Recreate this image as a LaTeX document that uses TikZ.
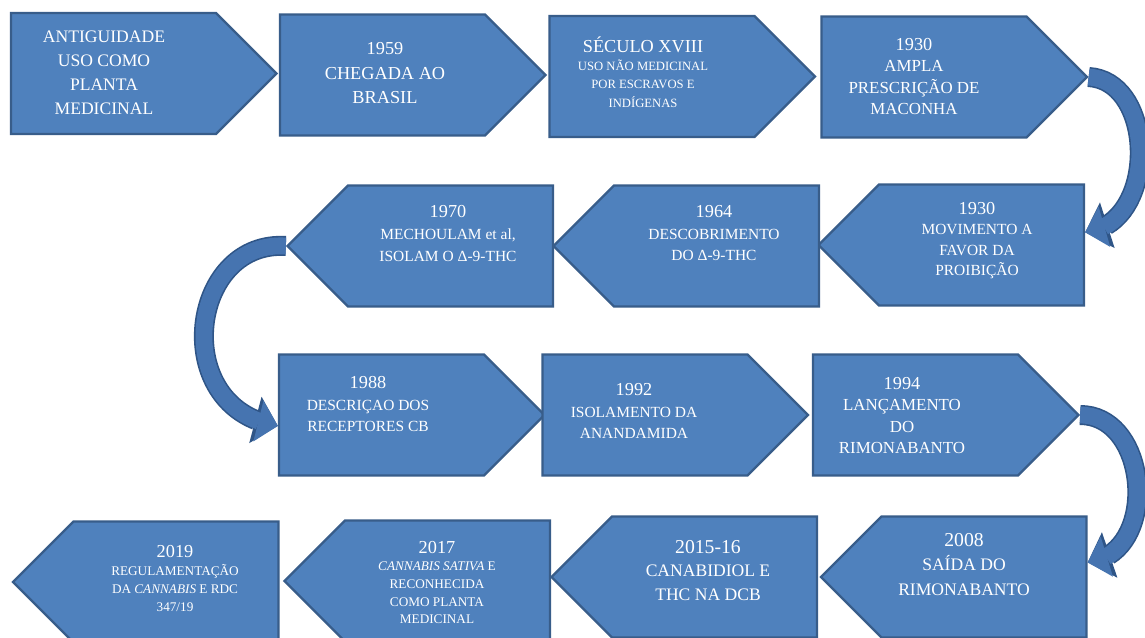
\documentclass[tikz,border=0pt]{standalone}
\usepackage{fontspec}
\setmainfont{Liberation Serif}
\usetikzlibrary{shapes.symbols,arrows.meta,bending}

\definecolor{boxblue}{HTML}{4F81BD}
\definecolor{lineblue}{HTML}{385D8A}
\definecolor{arrowblue}{HTML}{4674B0}
\definecolor{arrowline}{HTML}{2F5587}
\newcommand{\yr}[1]{{\fontsize{13}{13}\selectfont #1}}

\begin{document}
\begin{tikzpicture}[x=0.025cm, y=-0.025cm,
    sig/.style={signal, signal from=nowhere, signal pointer angle=90,
                draw=lineblue, line width=1.6pt, fill=boxblue,
                inner xsep=2.5625cm, inner ysep=1.5125cm, minimum size=0pt},
    sig_east/.style={sig, signal to=east},
    sig_west/.style={sig, signal to=west},
    txt/.style={text=white, align=center, inner sep=0pt},
    big_arrow/.style={draw=arrowblue, line width=0.42cm,
                -{Triangle[length=0.5cm, width=1.05cm, line width=0pt]},
                preaction={draw=arrowline, line width=0.5cm,
                -{Triangle[length=0.58cm, width=1.2cm, line width=0pt]}}}
   ]
   \useasboundingbox (0,0) rectangle (1145,638);
   \fill[white] (0,0) rectangle (1145,638);
   % Row 1
   \node[sig_east] (b1) at (113.5,73.5) {};
   \node[sig_east] (b2) at (382.5,75) {};
   \node[sig_east] (b3) at (652,76.5) {};
   \node[sig_east] (b4) at (924,77) {};
   % Row 2
   \node[sig_west] (b5) at (981.5,245) {};
   \node[sig_west] (b6) at (716.5,246) {};
   \node[sig_west] (b7) at (450.5,246) {};
   % Row 3
   \node[sig_east] (b8) at (381.5,415) {};
   \node[sig_east] (b9) at (645,415) {};
   \node[sig_east] (b10) at (915.5,415) {};
   % Row 4
   \node[sig_west] (b11) at (984,577) {};
   \node[sig_west] (b12) at (714.5,577) {};
   \node[sig_west] (b13) at (447.5,581) {};
   \node[sig_west] (b14) at (176,582) {};

   % Texts
   \node[txt, font=\fontsize{12.5}{17}\selectfont] (t1) at (104,73)
        {ANTIGUIDADE\\USO COMO\\PLANTA\\MEDICINAL};
   \node[txt, font=\fontsize{13}{17.4}\selectfont] (t2) at (385,73.5)
        {\yr{1959}\\CHEGADA AO\\BRASIL};
   \node[txt, font=\fontsize{9}{13}\selectfont] (t3) at (643,72)
        {{\fontsize{13}{13}\selectfont SÉCULO XVIII}\\USO NÃO MEDICINAL\\POR ESCRAVOS E\\INDÍGENAS};
   \node[txt, font=\fontsize{12}{15.4}\selectfont] (t4) at (914,76.5)
        {\yr{1930}\\AMPLA\\PRESCRIÇÃO DE\\MACONHA};
   \node[txt, font=\fontsize{11}{14.4}\selectfont] (t5) at (977,240.5)
        {\yr{1930}\\MOVIMENTO A\\FAVOR DA\\PROIBIÇÃO};
   \node[txt, font=\fontsize{11}{15.3}\selectfont] (t6) at (714,233.5)
        {\yr{1964}\\DESCOBRIMENTO\\DO Δ-9-THC};
   \node[txt, font=\fontsize{11}{15.3}\selectfont] (t7) at (448,233.5)
        {\yr{1970}\\MECHOULAM et al,\\ISOLAM O Δ-9-THC};
   \node[txt, font=\fontsize{11}{15}\selectfont] (t8) at (368,404)
        {\yr{1988}\\DESCRIÇAO DOS\\RECEPTORES CB};
   \node[txt, font=\fontsize{11}{15}\selectfont] (t9) at (634,411)
        {\yr{1992}\\ISOLAMENTO DA\\ANANDAMIDA};
   \node[txt, font=\fontsize{12}{15.1}\selectfont] (t10) at (902,415.5)
        {\yr{1994}\\LANÇAMENTO\\DO\\RIMONABANTO};
   \node[txt, font=\fontsize{12.5}{17.4}\selectfont] (t11) at (964,564.5)
        {{\fontsize{14}{14}\selectfont 2008}\\SAÍDA DO\\RIMONABANTO};
   \node[txt, font=\fontsize{12.5}{16.7}\selectfont] (t12) at (708,570.5)
        {{\fontsize{14}{14}\selectfont 2015-16}\\CANABIDIOL E\\THC NA DCB};
   \node[txt, font=\fontsize{9.4}{12.5}\selectfont] (t13) at (437,582.5)
        {\yr{2017}\\\textit{CANNABIS SATIVA} E\\RECONHECIDA\\COMO PLANTA\\MEDICINAL};
   \node[txt, font=\fontsize{9.4}{12.8}\selectfont] (t14) at (175,578.5)
        {\yr{2019}\\REGULAMENTAÇÃO\\DA \textit{CANNABIS} E RDC\\347/19};

   % Curved arrows between rows
   \draw[big_arrow] (b4.east) .. controls +(68,4) and +(73,-7) .. (b5.7);
   \draw[big_arrow] (b7.west) .. controls +(-98,-6) and +(-109,-16) .. (b8.186);
   \draw[big_arrow] (b10.east) .. controls +(70,0) and +(72,-8) .. (b11.8);
\end{tikzpicture}
\end{document}
